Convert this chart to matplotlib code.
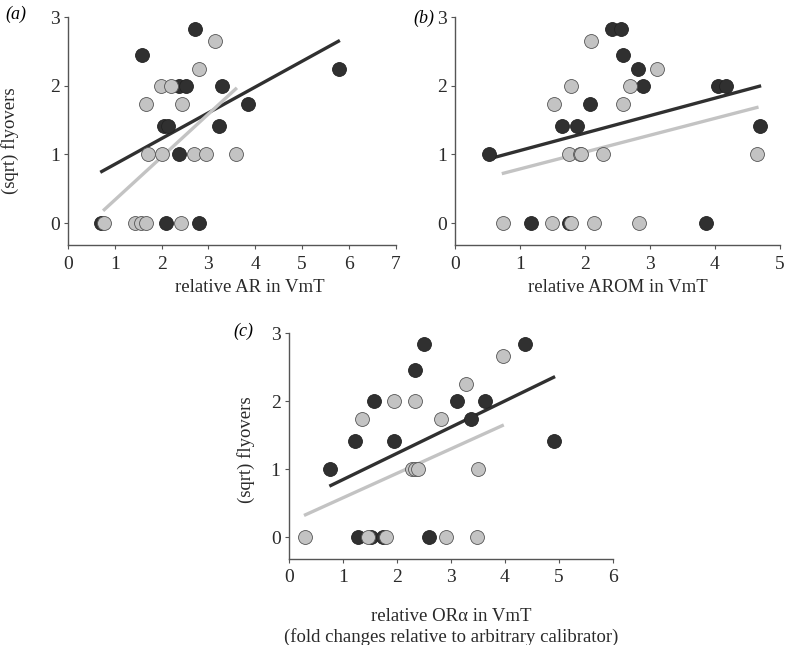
import matplotlib.pyplot as plt

plt.rcParams['font.family'] = ['Liberation Serif', 'DejaVu Serif']

DARK = '#303030'
LIGHT = '#c3c3c3'

# panel a: relative AR
a_dark_x = [2.71, 1.59, 2.38, 2.52, 3.30, 3.84, 2.06, 2.14, 3.22, 2.38, 5.79, 0.71, 2.09, 2.81]
a_dark_y = [2.83, 2.45, 2.0, 2.0, 2.0, 1.73, 1.41, 1.41, 1.41, 1.0, 2.24, 0, 0, 0]
a_light_x = [3.15, 2.80, 1.98, 2.21, 1.66, 2.43, 1.70, 2.01, 2.69, 2.95, 3.60, 0.77, 1.43, 1.57, 1.66, 2.41]
a_light_y = [2.65, 2.24, 2.0, 2.0, 1.73, 1.73, 1.0, 1.0, 1.0, 1.0, 1.0, 0, 0, 0, 0, 0]
a_dark_fit = ([0.69, 5.81], [0.74, 2.66])
a_light_fit = ([0.75, 3.61], [0.18, 1.97])

# panel b: relative AROM
b_dark_x = [2.42, 2.56, 2.59, 2.81, 2.90, 4.05, 4.17, 2.07, 1.65, 1.88, 0.52, 4.70, 1.17, 1.76, 3.86]
b_dark_y = [2.83, 2.83, 2.45, 2.24, 2.0, 2.0, 2.0, 1.73, 1.41, 1.41, 1.0, 1.41, 0, 0, 0]
b_light_x = [2.10, 3.11, 1.78, 2.70, 1.52, 2.58, 1.75, 1.92, 1.94, 2.27, 4.65, 0.74, 1.49, 1.79, 2.14, 2.83]
b_light_y = [2.65, 2.24, 2.0, 2.0, 1.73, 1.73, 1.0, 1.0, 1.0, 1.0, 1.0, 0, 0, 0, 0, 0]
b_dark_fit = ([0.54, 4.71], [0.94, 2.0])
b_light_fit = ([0.72, 4.67], [0.72, 1.69])

# panel c: relative OR alpha
c_dark_x = [2.50, 4.38, 2.34, 1.58, 3.11, 3.63, 3.38, 1.22, 1.95, 4.91, 0.77, 1.28, 1.52, 1.74, 2.60]
c_dark_y = [2.84, 2.84, 2.46, 2.0, 2.0, 2.0, 1.74, 1.42, 1.42, 1.42, 1.0, 0, 0, 0, 0]
c_light_x = [3.96, 3.28, 1.94, 2.34, 1.36, 2.81, 2.28, 2.33, 2.39, 3.51, 0.30, 1.47, 1.80, 2.91, 3.48]
c_light_y = [2.66, 2.25, 2.0, 2.0, 1.74, 1.74, 1.0, 1.0, 1.0, 1.0, 0, 0, 0, 0, 0]
c_dark_fit = ([0.75, 4.93], [0.75, 2.36])
c_light_fit = ([0.28, 3.98], [0.32, 1.65])

fig = plt.figure(figsize=(7.85, 6.45), dpi=100)


def panel(rect, dx, dy, lx, ly, dfit, lfit, xmax, xlabel, xlab_pos, ylabel=None, ylab_pos=None):
    ax = fig.add_axes(rect)
    ax.plot(dfit[0], dfit[1], color=DARK, lw=2.4, solid_capstyle='butt', zorder=2)
    ax.plot(lfit[0], lfit[1], color=LIGHT, lw=2.4, solid_capstyle='butt', zorder=2)
    ax.scatter(dx, dy, s=100, color=DARK, edgecolor='#222222', linewidth=0.6, zorder=3)
    ax.scatter(lx, ly, s=100, color=LIGHT, edgecolor='#555555', linewidth=0.6, zorder=3)
    ax.set_xlim(0, xmax)
    ax.set_ylim(-0.32, 3)
    ax.set_xticks(range(xmax + 1))
    ax.set_yticks([0, 1, 2, 3])
    for s in ['top', 'right']:
        ax.spines[s].set_visible(False)
    for s in ['left', 'bottom']:
        ax.spines[s].set_color('#555555')
        ax.spines[s].set_linewidth(1.0)
    ax.tick_params(direction='out', length=3, width=0.8, color='#555555',
                   labelsize=14, labelcolor='#2a2a2a', pad=3)
    ax.tick_params(axis='x', pad=4.5)
    ax.set_xlabel(xlabel, fontsize=13.5, color='#2a2a2a', linespacing=1.25)
    ax.xaxis.set_label_coords(*xlab_pos)
    if ylabel:
        ax.set_ylabel(ylabel, fontsize=13.5, color='#2a2a2a')
        ax.yaxis.set_label_coords(*ylab_pos)
    return ax


panel([0.0866, 0.620, 0.4173, 0.3535], a_dark_x, a_dark_y, a_light_x, a_light_y,
      a_dark_fit, a_light_fit, 7, 'relative AR in VmT', (0.556, -0.15),
      '(sqrt) flyovers', (-0.15, 0.46))
panel([0.5796, 0.620, 0.414, 0.3535], b_dark_x, b_dark_y, b_light_x, b_light_y,
      b_dark_fit, b_light_fit, 5, 'relative AROM in VmT', (0.5, -0.15))
panel([0.368, 0.1333, 0.4127, 0.3504], c_dark_x, c_dark_y, c_light_x, c_light_y,
      c_dark_fit, c_light_fit, 6,
      'relative OR\u03b1 in VmT\n(fold changes relative to arbitrary calibrator)', (0.5, -0.217),
      '(sqrt) flyovers', (-0.105, 0.482))

fig.text(16 / 785, 1 - 14 / 645, '(a)', style='italic', fontsize=13, ha='center', va='center')
fig.text(424 / 785, 1 - 18 / 645, '(b)', style='italic', fontsize=13, ha='center', va='center')
fig.text(243 / 785, 1 - 331 / 645, '(c)', style='italic', fontsize=13, ha='center', va='center')

fig.savefig('out.png', dpi=100)
